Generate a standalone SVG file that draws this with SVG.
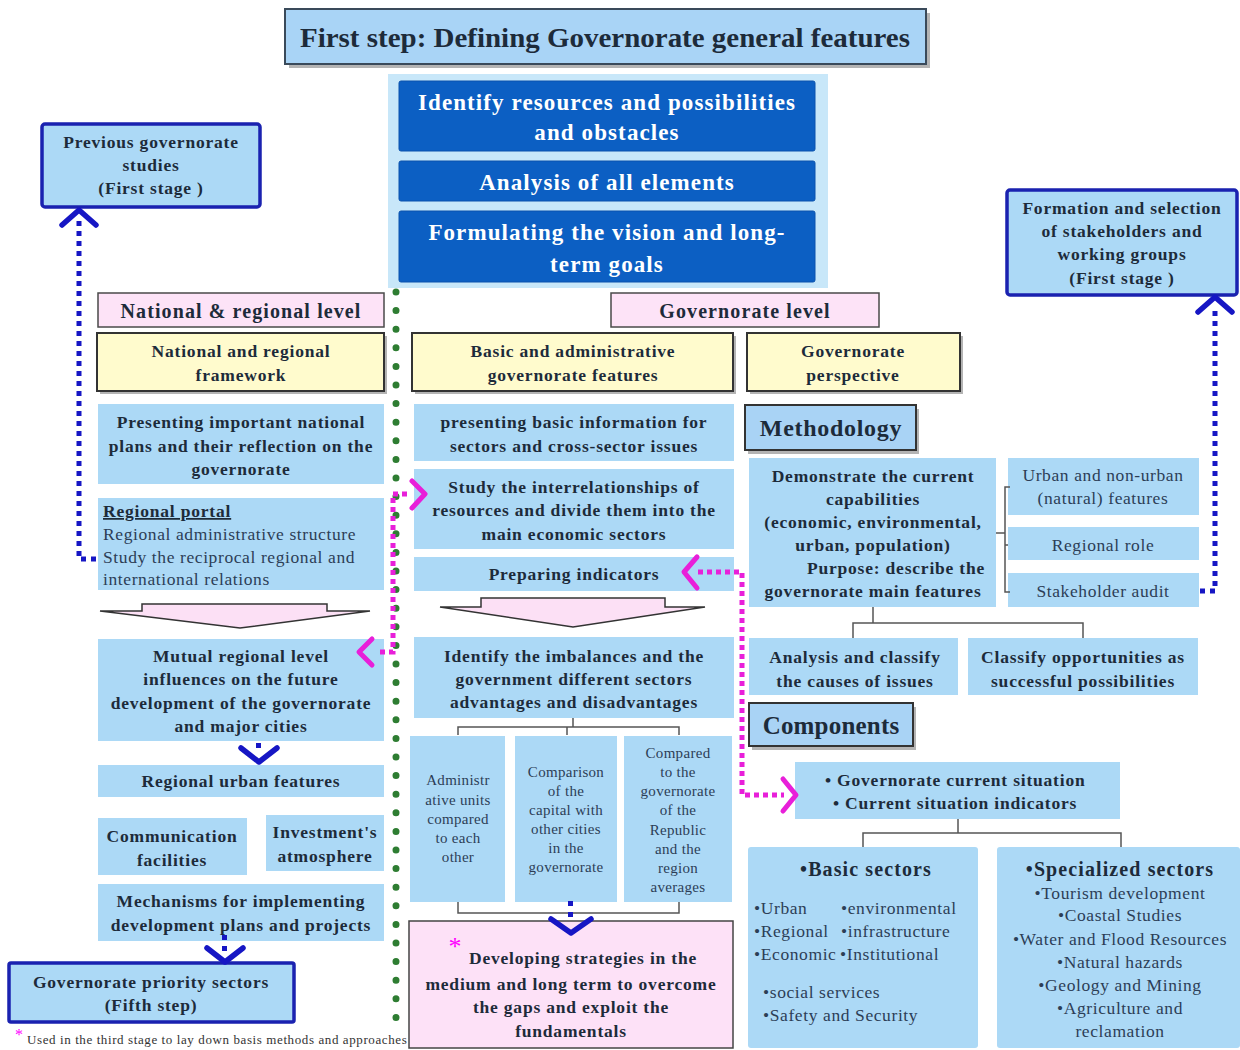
<svg xmlns="http://www.w3.org/2000/svg" width="1240" height="1050" viewBox="0 0 1240 1050">
  <style>
    .lb { fill: #acd9f6; }
    .panel { fill: #c8e7f9; }
    .db { fill: #0c5fc3; stroke: #0a52ad; stroke-width: 1; }
    .pk { fill: #fde3f7; stroke: #4a4a4a; stroke-width: 1.5; }
    .yl { fill: #fffbcd; stroke: #333; stroke-width: 2; }
    .hd { fill: #a9d3f5; stroke: #333; stroke-width: 2; }
    .bb { fill: #acd9f6; stroke: #1a22b0; stroke-width: 3.5; }
    .sh { fill: #777; opacity: 0.55; }
    .t { font-family: "Liberation Serif", "Times New Roman", serif; font-weight: bold; font-size: 17.5px; letter-spacing: 0.8px; fill: #1d2b3a; text-anchor: middle; }
    .r { font-family: "Liberation Serif", "Times New Roman", serif; font-size: 17.5px; letter-spacing: 0.6px; fill: #2c3e56; text-anchor: middle; }
    .rs { font-family: "Liberation Serif", "Times New Roman", serif; font-size: 15px; letter-spacing: 0.3px; fill: #2c3e56; text-anchor: middle; }
    .w { font-family: "Liberation Serif", "Times New Roman", serif; font-weight: bold; font-size: 23px; fill: #ffffff; text-anchor: middle; letter-spacing: 1.1px; }
    .lv { font-family: "Liberation Serif", "Times New Roman", serif; font-weight: bold; font-size: 20px; letter-spacing: 1.1px; fill: #1d2b3a; text-anchor: middle; }
    .st { font-family: "Liberation Serif", "Times New Roman", serif; font-size: 17px; fill: magenta; text-anchor: middle; }
    .green { fill: none; stroke: #2e7d32; stroke-width: 7; stroke-linecap: round; stroke-dasharray: 0 18.6; }
    .mag { fill: none; stroke: #e81fd9; stroke-width: 5; stroke-dasharray: 5 4; }
    .magc { fill: none; stroke: #e81fd9; stroke-width: 5; stroke-linecap: round; stroke-linejoin: round; }
    .blu { fill: none; stroke: #1616c4; stroke-width: 5; stroke-dasharray: 5 5; }
    .bluc { fill: none; stroke: #1616c4; stroke-width: 5.5; stroke-linecap: round; stroke-linejoin: round; }
    .brk { fill: none; stroke: #555; stroke-width: 1.5; }
    .blk { fill: #fce0f5; stroke: #333; stroke-width: 1.5; }
  </style>

  <!-- Title -->
  <g id="title">
    <rect class="sh" x="289" y="13" width="641" height="55"/>
    <rect x="285" y="9" width="641" height="55" fill="#a9d4f6" stroke="#3a4a5a" stroke-width="2"/>
    <text class="lv" x="605" y="47" style="font-size:28px;letter-spacing:0" textLength="610" lengthAdjust="spacingAndGlyphs">First step: Defining Governorate general features</text>
  </g>

  <!-- Central panel with three stacked steps -->
  <g id="core-steps">
    <rect class="panel" x="388" y="74" width="440" height="214"/>
    <rect class="db" x="399" y="81" width="416" height="70" rx="2"/>
    <text class="w" x="607" y="110">Identify resources and possibilities</text>
    <text class="w" x="607" y="140">and obstacles</text>
    <rect class="db" x="399" y="161" width="416" height="40" rx="2"/>
    <text class="w" x="607" y="190">Analysis of all elements</text>
    <rect class="db" x="399" y="211" width="416" height="71" rx="2"/>
    <text class="w" x="607" y="240">Formulating the vision and long-</text>
    <text class="w" x="607" y="272">term goals</text>
  </g>

  <g id="previous-studies">
    <rect class="bb" x="42" y="124" width="218" height="83" rx="3"/>
    <text class="t" x="151" y="148">Previous governorate</text>
    <text class="t" x="151" y="171">studies</text>
    <text class="t" x="151" y="194">(First stage )</text>
  </g>

  <g id="stakeholder-formation">
    <rect class="bb" x="1007" y="190" width="230" height="105" rx="3"/>
    <text class="t" x="1122" y="214">Formation and selection</text>
    <text class="t" x="1122" y="237">of stakeholders and</text>
    <text class="t" x="1122" y="260">working groups</text>
    <text class="t" x="1122" y="284">(First stage )</text>
  </g>

  <!-- Left column: national & regional level -->
  <g id="national-level">
    <rect class="pk" x="98" y="293" width="286" height="34"/>
    <text class="lv" x="241" y="318">National &amp; regional level</text>
  </g>
  <g id="national-framework">
    <rect class="sh" x="100" y="336" width="287" height="58"/>
    <rect class="yl" x="97" y="333" width="287" height="58"/>
    <text class="t" x="241" y="357">National and regional</text>
    <text class="t" x="241" y="381">framework</text>
  </g>
  <g id="national-plans">
    <rect class="lb" x="98" y="404" width="286" height="80"/>
    <text class="t" x="241" y="428">Presenting important national</text>
    <text class="t" x="241" y="452">plans and their reflection on the</text>
    <text class="t" x="241" y="475">governorate</text>
  </g>
  <g id="regional-portal">
    <rect class="lb" x="98" y="498" width="286" height="92"/>
    <text class="t" x="103" y="517" style="text-anchor:start;text-decoration:underline">Regional portal</text>
    <text class="r" x="103" y="540" style="text-anchor:start">Regional administrative structure</text>
    <text class="r" x="103" y="563" style="text-anchor:start">Study the reciprocal regional and</text>
    <text class="r" x="103" y="585" style="text-anchor:start">international relations</text>
  </g>
  <g id="left-block-arrow">
    <path class="blk" d="M142,604 H327 V611 H370 L240,628 L100,611 H142 Z"/>
  </g>
  <g id="mutual-influences">
    <rect class="lb" x="98" y="639" width="286" height="102"/>
    <text class="t" x="241" y="662">Mutual regional level</text>
    <text class="t" x="241" y="685">influences on the future</text>
    <text class="t" x="241" y="709">development of the governorate</text>
    <text class="t" x="241" y="732">and major cities</text>
  </g>
  <g id="regional-urban">
    <rect class="lb" x="98" y="765" width="286" height="32"/>
    <text class="t" x="241" y="787">Regional urban features</text>
  </g>
  <g id="communication">
    <rect class="lb" x="98" y="818" width="149" height="57"/>
    <text class="t" x="172" y="842">Communication</text>
    <text class="t" x="172" y="866">facilities</text>
  </g>
  <g id="investment">
    <rect class="lb" x="266" y="815" width="118" height="56"/>
    <text class="t" x="325" y="838">Investment's</text>
    <text class="t" x="325" y="862">atmosphere</text>
  </g>
  <g id="mechanisms">
    <rect class="lb" x="98" y="884" width="286" height="57"/>
    <text class="t" x="241" y="907">Mechanisms for implementing</text>
    <text class="t" x="241" y="931">development plans and projects</text>
  </g>
  <g id="priority-sectors">
    <rect class="bb" x="9" y="963" width="285" height="59" rx="2"/>
    <text class="t" x="151" y="988">Governorate priority sectors</text>
    <text class="t" x="151" y="1011">(Fifth step)</text>
  </g>
  <g id="footnote">
    <text class="st" x="19" y="1040" style="font-size:16px">*</text>
    <text x="27" y="1044" font-family="'Liberation Serif', serif" font-size="13" letter-spacing="0.6" fill="#333">Used in the third stage to lay down basis methods and approaches</text>
  </g>

  <!-- Middle column: governorate level -->
  <g id="governorate-level">
    <rect class="pk" x="611" y="293" width="268" height="34"/>
    <text class="lv" x="745" y="318">Governorate  level</text>
  </g>
  <g id="basic-admin">
    <rect class="sh" x="415" y="336" width="321" height="58"/>
    <rect class="yl" x="412" y="333" width="321" height="58"/>
    <text class="t" x="573" y="357">Basic and administrative</text>
    <text class="t" x="573" y="381">governorate features</text>
  </g>
  <g id="governorate-perspective">
    <rect class="sh" x="750" y="336" width="213" height="58"/>
    <rect class="yl" x="747" y="333" width="213" height="58"/>
    <text class="t" x="853" y="357">Governorate</text>
    <text class="t" x="853" y="381">perspective</text>
  </g>
  <g id="basic-info">
    <rect class="lb" x="414" y="404" width="320" height="57"/>
    <text class="t" x="574" y="428">presenting basic information  for</text>
    <text class="t" x="574" y="452">sectors and cross-sector issues</text>
  </g>
  <g id="interrelationships">
    <rect class="lb" x="414" y="469" width="320" height="80"/>
    <text class="t" x="574" y="493">Study the interrelationships of</text>
    <text class="t" x="574" y="516">resources and divide them into the</text>
    <text class="t" x="574" y="540">main economic  sectors</text>
  </g>
  <g id="indicators">
    <rect class="lb" x="414" y="557" width="320" height="34"/>
    <text class="t" x="574" y="580">Preparing indicators</text>
  </g>
  <g id="middle-block-arrow">
    <path class="blk" d="M481,598 H665 V607 H705 L573,627 L440,607 H481 Z"/>
  </g>
  <g id="imbalances">
    <rect class="lb" x="414" y="637" width="320" height="81"/>
    <text class="t" x="574" y="662">Identify the imbalances and the</text>
    <text class="t" x="574" y="685">government different sectors</text>
    <text class="t" x="574" y="708">advantages and disadvantages</text>
  </g>
  <g id="admin-units">
    <rect class="lb" x="410" y="736" width="95" height="166"/>
    <text class="rs" x="458" y="785">Administr</text>
    <text class="rs" x="458" y="805">ative units</text>
    <text class="rs" x="458" y="824">compared</text>
    <text class="rs" x="458" y="843">to each</text>
    <text class="rs" x="458" y="862">other</text>
  </g>
  <g id="capital-comparison">
    <rect class="lb" x="515" y="736" width="102" height="166"/>
    <text class="rs" x="566" y="777">Comparison</text>
    <text class="rs" x="566" y="796">of the</text>
    <text class="rs" x="566" y="815">capital with</text>
    <text class="rs" x="566" y="834">other cities</text>
    <text class="rs" x="566" y="853">in the</text>
    <text class="rs" x="566" y="872">governorate</text>
  </g>
  <g id="republic-comparison">
    <rect class="lb" x="624" y="736" width="108" height="166"/>
    <text class="rs" x="678" y="758">Compared</text>
    <text class="rs" x="678" y="777">to the</text>
    <text class="rs" x="678" y="796">governorate</text>
    <text class="rs" x="678" y="815">of the</text>
    <text class="rs" x="678" y="835">Republic</text>
    <text class="rs" x="678" y="854">and the</text>
    <text class="rs" x="678" y="873">region</text>
    <text class="rs" x="678" y="892">averages</text>
  </g>
  <g id="strategies">
    <rect x="409" y="921" width="324" height="127" fill="#fde1f7" stroke="#444" stroke-width="1.5"/>
    <text class="st" x="455" y="955" style="font-size:26px">*</text>
    <text class="t" x="583" y="964">Developing strategies in the</text>
    <text class="t" x="571" y="990">medium and long term to overcome</text>
    <text class="t" x="571" y="1013">the gaps and exploit the</text>
    <text class="t" x="571" y="1037">fundamentals</text>
  </g>

  <!-- Right column: methodology and components -->
  <g id="methodology">
    <rect class="sh" x="748" y="409" width="171" height="45"/>
    <rect class="hd" x="745" y="405" width="171" height="45"/>
    <text class="lv" x="831" y="436" style="font-size:24px;letter-spacing:0.7px">Methodology</text>
  </g>
  <g id="current-capabilities">
    <rect class="lb" x="749" y="458" width="247" height="149"/>
    <text class="t" x="873" y="482">Demonstrate the current</text>
    <text class="t" x="873" y="505">capabilities</text>
    <text class="t" x="873" y="528">(economic, environmental,</text>
    <text class="t" x="873" y="551">urban, population)</text>
    <text class="t" x="896" y="574">Purpose: describe the</text>
    <text class="t" x="873" y="597">governorate main features</text>
  </g>
  <g id="urban-features">
    <rect class="lb" x="1008" y="458" width="191" height="57"/>
    <text class="r" x="1103" y="481">Urban and non-urban</text>
    <text class="r" x="1103" y="504">(natural) features</text>
  </g>
  <g id="regional-role">
    <rect class="lb" x="1008" y="527" width="191" height="33"/>
    <text class="r" x="1103" y="551">Regional role</text>
  </g>
  <g id="stakeholder-audit">
    <rect class="lb" x="1008" y="573" width="191" height="34"/>
    <text class="r" x="1103" y="597">Stakeholder audit</text>
  </g>
  <g id="causes">
    <rect class="lb" x="749" y="638" width="209" height="57"/>
    <text class="t" x="855" y="663">Analysis and classify</text>
    <text class="t" x="855" y="687">the causes of issues</text>
  </g>
  <g id="opportunities">
    <rect class="lb" x="968" y="638" width="230" height="57"/>
    <text class="t" x="1083" y="663">Classify opportunities as</text>
    <text class="t" x="1083" y="687">successful possibilities</text>
  </g>
  <g id="components">
    <rect class="sh" x="752" y="707" width="164" height="43"/>
    <rect class="hd" x="749" y="703" width="164" height="43"/>
    <text class="lv" x="831" y="734" style="font-size:25px;letter-spacing:0.2px">Components</text>
  </g>
  <g id="current-situation">
    <rect class="lb" x="795" y="762" width="325" height="57"/>
    <text class="t" x="825" y="786" style="text-anchor:start">•   Governorate current situation</text>
    <text class="t" x="833" y="809" style="text-anchor:start">•   Current situation indicators</text>
  </g>
  <g id="basic-sectors">
    <rect class="lb" x="748" y="847" width="230" height="201" rx="3"/>
    <text class="lv" x="866" y="876">•Basic sectors</text>
    <text class="r" x="754" y="914" style="text-anchor:start">•Urban</text>
    <text class="r" x="841" y="914" style="text-anchor:start">•environmental</text>
    <text class="r" x="754" y="937" style="text-anchor:start">•Regional</text>
    <text class="r" x="841" y="937" style="text-anchor:start">•infrastructure</text>
    <text class="r" x="754" y="960" style="text-anchor:start">•Economic</text>
    <text class="r" x="840" y="960" style="text-anchor:start">•Institutional</text>
    <text class="r" x="763" y="998" style="text-anchor:start">•social services</text>
    <text class="r" x="763" y="1021" style="text-anchor:start">•Safety and Security</text>
  </g>
  <g id="specialized-sectors">
    <rect class="lb" x="997" y="847" width="243" height="201" rx="3"/>
    <text class="lv" x="1120" y="876">•Specialized  sectors</text>
    <text class="r" x="1120" y="899">•Tourism development</text>
    <text class="r" x="1120" y="921">•Coastal Studies</text>
    <text class="r" x="1120" y="945">•Water and Flood Resources</text>
    <text class="r" x="1120" y="968">•Natural hazards</text>
    <text class="r" x="1120" y="991">•Geology and Mining</text>
    <text class="r" x="1120" y="1014">•Agriculture and</text>
    <text class="r" x="1120" y="1037">reclamation</text>
  </g>

  <!-- Connectors -->
  <g id="connectors">
    <!-- divider between the two levels -->
    <line class="green" x1="396" y1="292" x2="396" y2="1030"/>

    <!-- tree brackets -->
    <path class="brk" d="M573,718 V727 M458,735 V727 H679 V735 M567,727 V735"/>
    <path class="brk" d="M458,902 V913 H679 V902"/>
    <path class="brk" d="M996,533 H1005 M1010,487 H1005 V592 H1010 M1005,545 H1008"/>
    <path class="brk" d="M873,607 V623 M853,638 V623 H1083 V638"/>
    <path class="brk" d="M958,819 V833 M863,847 V833 H1121 V847"/>

    <!-- blue dotted links to first-stage boxes -->
    <path class="blu" d="M96,559 H79 V218"/>
    <polyline class="bluc" points="62,225 79,210 96,225"/>
    <path class="blu" d="M1200,591 H1215 V306"/>
    <polyline class="bluc" points="1198,312 1215,297 1232,312"/>

    <!-- blue down chevrons -->
    <rect x="256" y="743" width="5" height="5" fill="#1616c4"/>
    <polyline class="bluc" points="241,748 259,762 277,748"/>
    <rect x="222" y="935" width="5" height="5" fill="#1616c4"/>
    <rect x="222" y="946" width="5" height="5" fill="#1616c4"/>
    <polyline class="bluc" points="207,948 225,962 243,948"/>
    <rect x="568" y="901" width="5" height="5" fill="#1616c4"/>
    <rect x="568" y="912" width="5" height="5" fill="#1616c4"/>
    <polyline class="bluc" points="551,919 571,933 591,919"/>

    <!-- magenta dotted links -->
    <path class="mag" d="M407,494 H393 V652 H376"/>
    <polyline class="magc" points="412,481 425,494 412,508"/>
    <polyline class="magc" points="372,639 359,652 372,665"/>
    <path class="mag" d="M698,572 H742 V795 H784"/>
    <polyline class="magc" points="697,557 684,572 697,588"/>
    <polyline class="magc" points="783,779 796,795 783,811"/>
  </g>
</svg>
